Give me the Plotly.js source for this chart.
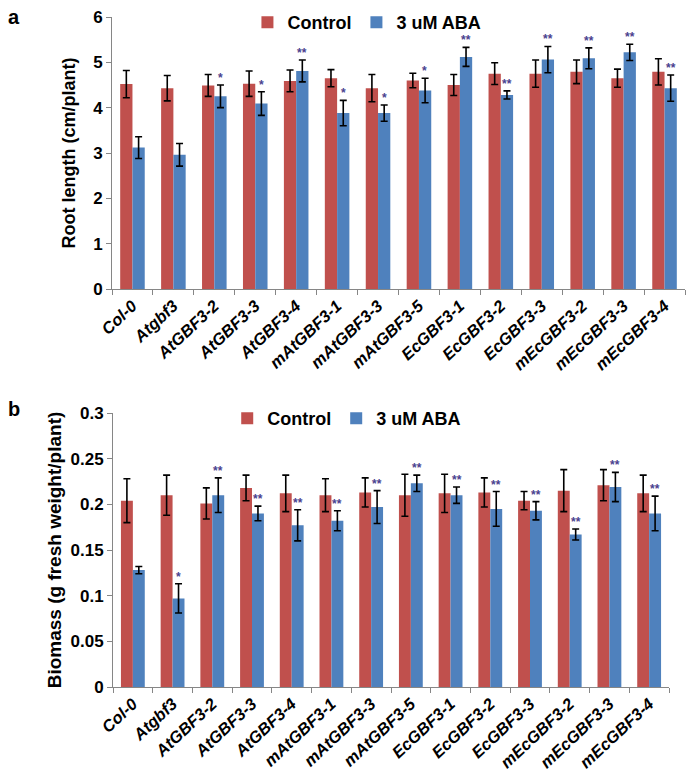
<!DOCTYPE html>
<html>
<head>
<meta charset="utf-8">
<script src="https://cdn.plot.ly/plotly-3.0.1.min.js"></script>
<style>
html,body{margin:0;padding:0;background:#fff;}
#chart{width:697px;height:780px;}
</style>
</head>
<body>
<div id="chart"></div>
<script>
const categories = ['Col-0','Atgbf3','AtGBF3-2','AtGBF3-3','AtGBF3-4','mAtGBF3-1','mAtGBF3-3','mAtGBF3-5','EcGBF3-1','EcGBF3-2','EcGBF3-3','mEcGBF3-2','mEcGBF3-3','mEcGBF3-4'];
const seriesNames = ['Control','3 uM ABA'];

const rootControl    = [4.52,4.43,4.49,4.53,4.59,4.65,4.43,4.60,4.50,4.75,4.75,4.79,4.65,4.79];
const rootControlErr = [0.30,0.28,0.24,0.28,0.24,0.19,0.30,0.16,0.23,0.24,0.30,0.26,0.20,0.29];
const rootABA        = [3.12,2.96,4.25,4.09,4.81,3.88,3.88,4.38,5.12,4.28,5.06,5.09,5.22,4.43];
const rootABAErr     = [0.24,0.25,0.25,0.26,0.24,0.28,0.18,0.27,0.21,0.09,0.29,0.23,0.18,0.29];
const rootSig        = ['','','*','*','**','*','*','*','**','**','**','**','**','**'];

const bioControl    = [0.204,0.210,0.201,0.218,0.212,0.210,0.213,0.210,0.212,0.213,0.204,0.215,0.221,0.212];
const bioControlErr = [0.024,0.022,0.017,0.014,0.020,0.018,0.016,0.023,0.021,0.016,0.010,0.023,0.017,0.020];
const bioABA        = [0.128,0.097,0.210,0.190,0.177,0.182,0.197,0.223,0.210,0.195,0.193,0.167,0.219,0.190];
const bioABAErr     = [0.004,0.016,0.019,0.008,0.017,0.011,0.018,0.009,0.009,0.019,0.010,0.006,0.016,0.019];
const bioSig        = ['','*','**','**','**','**','**','**','**','**','**','**','**','**'];

const yTicksRoot = [0,1,2,3,4,5,6];
const yTicksBio  = [0,0.05,0.1,0.15,0.2,0.25,0.3];
const yTickTextBio = ['0','0.05','0.1','0.15','0.2','0.25','0.3'];

const RED = '#C0504D', BLUE = '#4F81BD';
const FONT = 'Liberation Sans, Arial, sans-serif';

function bar(name, y, err, color, xa, ya, legend){
  return {
    type:'bar', name:name, x:categories, y:y, xaxis:xa, yaxis:ya, legend:legend,
    marker:{color:color, line:{width:0}},
    error_y:{type:'data', array:err, visible:true, color:'#000', thickness:1.6, width:3.5}
  };
}

const data = [
  bar(seriesNames[0], rootControl, rootControlErr, RED, 'x', 'y', 'legend'),
  bar(seriesNames[1], rootABA, rootABAErr, BLUE, 'x', 'y', 'legend'),
  bar(seriesNames[0], bioControl, bioControlErr, RED, 'x2', 'y2', 'legend2'),
  bar(seriesNames[1], bioABA, bioABAErr, BLUE, 'x2', 'y2', 'legend2')
];

const annotations = [];
function stars(sig, vals, errs, xr, yr){
  sig.forEach((s,i)=>{
    if(!s) return;
    annotations.push({
      x:categories[i], y:vals[i]+errs[i], xref:xr, yref:yr,
      text:s, showarrow:false, xshift:6, yshift:-2, yanchor:'bottom',
      font:{family:FONT, size:12, color:'#4a3f8f', weight:'bold'}
    });
  });
}
stars(rootSig, rootABA, rootABAErr, 'x', 'y');
stars(bioSig, bioABA, bioABAErr, 'x2', 'y2');

annotations.push({text:'a', x:0.008, y:0.995, xref:'paper', yref:'paper', xanchor:'left', yanchor:'top', showarrow:false, font:{family:FONT, size:20, weight:'bold', color:'#000'}});
annotations.push({text:'b', x:0.008, y:0.492, xref:'paper', yref:'paper', xanchor:'left', yanchor:'top', showarrow:false, font:{family:FONT, size:20, weight:'bold', color:'#000'}});

const xTickFont = {family:FONT, size:16.5, color:'#000', weight:'bold', style:'italic'};
const yTickFont = {family:FONT, size:17, color:'#000', weight:'bold'};
const axisCommon = {showline:true, linecolor:'#868686', linewidth:1, showgrid:false, zeroline:false, ticks:'outside', tickcolor:'#868686', ticklen:5, automargin:false};

const layout = {
  width:697, height:780,
  margin:{l:0, r:0, t:0, b:0},
  paper_bgcolor:'#fff', plot_bgcolor:'#fff',
  barmode:'group', bargap:0.4, bargroupgap:0,
  showlegend:true,
  font:{family:FONT},
  xaxis:Object.assign({}, axisCommon, {domain:[112/697, 685/697], anchor:'y', type:'category', tickson:'boundaries', tickangle:-43, tickfont:xTickFont}),
  yaxis:Object.assign({}, axisCommon, {domain:[1-289/780, 1-17/780], anchor:'x', range:[0,6], tickvals:yTicksRoot, tickfont:yTickFont,
    title:{text:'Root length (cm/plant)', font:{family:FONT, size:18, weight:'bold', color:'#000'}, standoff:12}}),
  xaxis2:Object.assign({}, axisCommon, {domain:[113/697, 669/697], anchor:'y2', type:'category', tickson:'boundaries', tickangle:-43, tickfont:xTickFont}),
  yaxis2:Object.assign({}, axisCommon, {domain:[1-687/780, 1-413/780], anchor:'x2', range:[0,0.3], tickvals:yTicksBio, ticktext:yTickTextBio, tickfont:yTickFont,
    title:{text:'Biomass (g fresh weight/plant)', font:{family:FONT, size:19, weight:'bold', color:'#000'}, standoff:3}}),
  legend:{orientation:'h', x:0.355, y:1-4/780, xanchor:'left', yanchor:'top', font:{family:FONT, size:18, weight:'bold', color:'#000'}, bgcolor:'rgba(0,0,0,0)', itemwidth:30, traceorder:'normal'},
  legend2:{orientation:'h', x:0.326, y:1-400/780, xanchor:'left', yanchor:'top', font:{family:FONT, size:18, weight:'bold', color:'#000'}, bgcolor:'rgba(0,0,0,0)', itemwidth:30, traceorder:'normal'},
  annotations:annotations
};

Plotly.newPlot('chart', data, layout, {displayModeBar:false, staticPlot:true});
</script>
</body>
</html>
